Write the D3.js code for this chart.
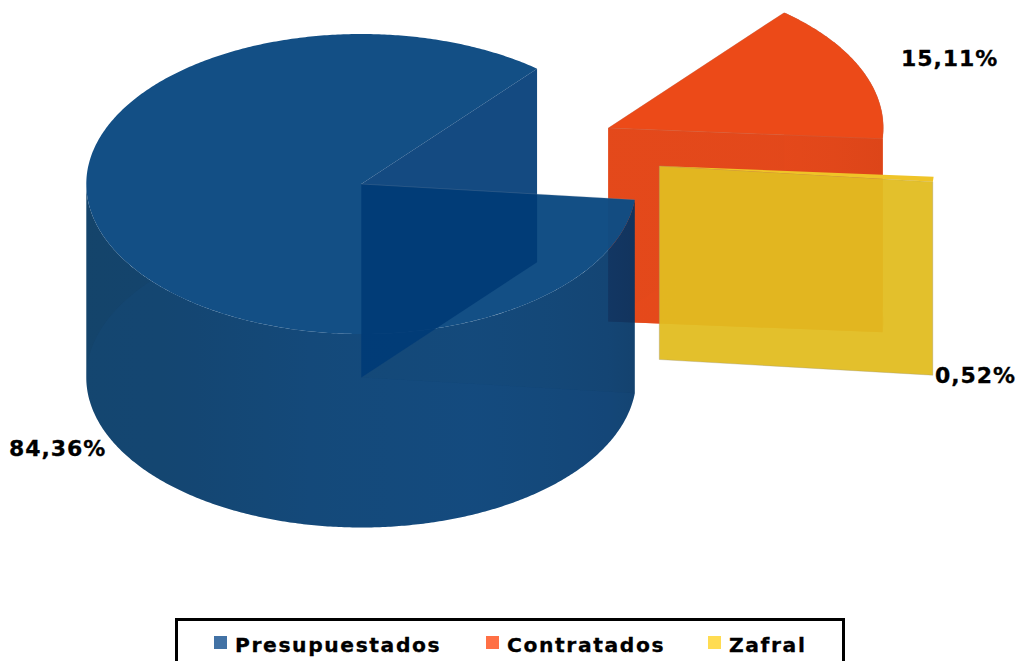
<!DOCTYPE html>
<html>
<head>
<meta charset="utf-8">
<script src="https://cdn.jsdelivr.net/npm/d3@7"></script>
<style>
html,body{margin:0;padding:0;background:#fff;overflow:hidden}
svg{display:block}
text{font-family:"DejaVu Sans",sans-serif;font-weight:bold;fill:#000;stroke:#000;stroke-width:.3px}
</style>
</head>
<body>
<svg id="c" width="1021" height="661"></svg>
<script>
const categories = ["Presupuestados", "Contratados", "Zafral"];
const shares = [84.36, 15.11, 0.52];
const valueLabels = ["84,36%", "15,11%", "0,52%"];

// layout of the exploded 3D pie
const origins = [[361.3, 184], [608.3, 128], [659.3, 166]];
const labelPos = [[9, 456], [901, 66], [935, 383]];
const legendX = [214, 486, 708];
const RX = 275, RY = 150, DEPTH = 193.5;
const START = 96 * Math.PI / 180;

const svg = d3.select("#c");
const defs = svg.append("defs");

const pie = d3.pie().sort(null).startAngle(START).endAngle(START + 2 * Math.PI);
const arcs = pie(shares);

const xUnit = d3.scaleLinear().domain([-1, 1]).range([-RX, RX]);
const yUnit = d3.scaleLinear().domain([-1, 1]).range([-RY, RY]);
const line = d3.line();
const pt = (o, t, dz) => [o[0] + xUnit(Math.sin(t)), o[1] + yUnit(-Math.cos(t)) + (dz || 0)];
const rim = (o, a, b, dz) => {
  const n = Math.max(2, Math.ceil(Math.abs(b - a) / 0.01));
  return d3.range(n + 1).map(i => pt(o, a + (b - a) * i / n, dz));
};
const sector = (o, a, b, dz) => line([[o[0], o[1] + (dz || 0)], ...rim(o, a, b, dz)]) + "Z";
const band = (o, a, b) => line([...rim(o, a, b, 0), ...rim(o, b, a, DEPTH)]) + "Z";
const wall = (o, t) => line([o, pt(o, t), pt(o, t, DEPTH), [o[0], o[1] + DEPTH]]) + "Z";

function grad(id, x1, x2, stops) {
  const g = defs.append("linearGradient").attr("id", id)
    .attr("gradientUnits", "userSpaceOnUse")
    .attr("x1", x1).attr("x2", x2).attr("y1", 0).attr("y2", 0);
  stops.forEach(s => g.append("stop").attr("offset", s[0]).attr("stop-color", s[1]));
}

grad("blueOuter", 86, 636, [[0, "#00345e"], [0.12, "#003460"], [0.3, "#003766"], [0.45, "#00396c"], [0.7, "#003a70"], [0.85, "#00386c"], [0.95, "#003568"], [1, "#003262"]]);
grad("orangeWall", 608, 883, [[0, "#e4491b"], [0.6, "#e3481b"], [0.82, "#de461a"], [1, "#d84318"]]);

function path(d, fill, op, stroke) {
  svg.append("path").attr("d", d).attr("fill", fill).attr("fill-opacity", op)
    .attr("stroke", stroke || "none").attr("stroke-width", stroke ? 0.6 : 0);
}

// ---- Contratados
{
  const o = origins[1], a = arcs[1];
  path(band(o, a.startAngle, a.endAngle), "#e4491b", 1);
  path(wall(o, a.endAngle), "#e84a1a", 1);
  path(wall(o, a.startAngle), "#df481c", 0.55);
  path(wall(o, a.endAngle), "url(#orangeWall)", 0.7);
  path(sector(o, a.startAngle, a.endAngle), "#ec4a18", 1, "rgba(170,130,120,.35)");
}

// ---- Presupuestados
{
  const o = origins[0], a = arcs[0];
  const s = a.startAngle, e = a.endAngle;
  const frontEnd = 1.5 * Math.PI;
  path(band(o, s, frontEnd), "url(#blueOuter)", 0.92);
  path(sector(o, s, e, DEPTH), "#1a5c9c", 0.1);
  path(wall(o, s), "#11508c", 0.04);
  path(sector(o, s, e), "#0f4c83", 0.985);
  path(wall(o, e), "#003b76", 0.92);
  path(line([o, pt(o, s)]), "none", 0, "rgba(150,160,175,.35)");
}

// ---- Zafral
{
  const o = origins[2], a = arcs[2];
  path(wall(o, a.endAngle), "#e1bd21", 0.95, "rgba(160,150,120,.6)");
  path(sector(o, a.startAngle, a.endAngle), "#efc428", 1);
}

// ---- value labels
svg.selectAll("text.v").data(valueLabels).join("text").attr("class", "v")
  .attr("x", (d, i) => labelPos[i][0]).attr("y", (d, i) => labelPos[i][1])
  .attr("font-size", 22).attr("letter-spacing", 0.95).text(d => d);

// ---- legend
const legendFill = ["#4272a5", "#ff7045", "#ffdc52"];
svg.append("rect").attr("x", 176.5).attr("y", 619.5).attr("width", 667).attr("height", 60)
  .attr("fill", "#fff").attr("stroke", "#000").attr("stroke-width", 3);
const lg = svg.selectAll("g.l").data(categories).join("g").attr("class", "l")
  .attr("transform", (d, i) => `translate(${legendX[i]},0)`);
lg.append("rect").attr("y", 636).attr("width", 13).attr("height", 13)
  .attr("fill", (d, i) => legendFill[i]);
lg.append("text").attr("x", 21).attr("y", 652).attr("font-size", 20.3)
  .attr("letter-spacing", 1.6).text(d => d);
</script>
</body>
</html>
